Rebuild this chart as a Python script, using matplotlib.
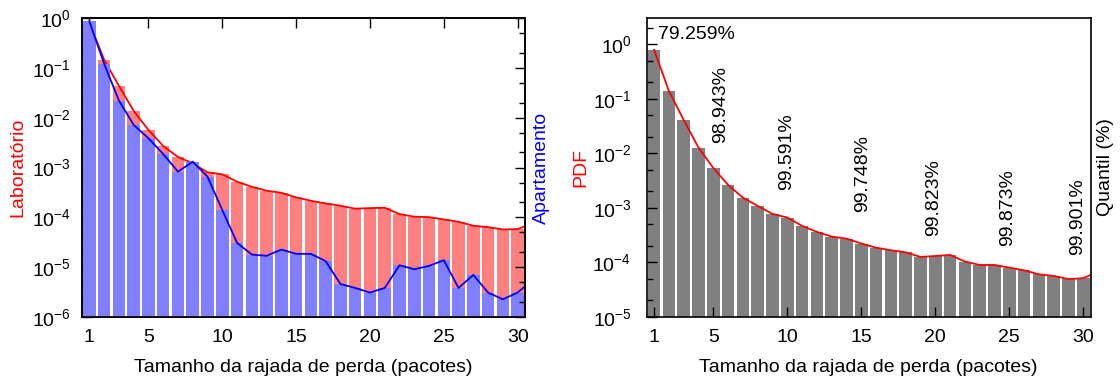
import numpy as np
import matplotlib
matplotlib.use("Agg")
import matplotlib.pyplot as plt
from matplotlib.ticker import LogLocator, NullFormatter

plt.rcParams['font.family'] = ['Liberation Sans', 'DejaVu Sans']
plt.rcParams['font.size'] = 14
plt.rcParams['mathtext.fontset'] = 'custom'
plt.rcParams['mathtext.rm'] = 'Liberation Sans'

# === DATA ===
sizes = np.arange(1, 32)  # 31st point only shows as the line leaving the frame

lab_pdf = [0.80, 0.145, 0.0435, 0.01368, 0.00567, 0.0027, 0.00163, 1.21e-3,
           8.0e-4, 7.3e-4, 5.19e-4, 4.11e-4, 3.42e-4, 3.11e-4, 2.51e-4,
           2.15e-4, 1.90e-4, 1.71e-4, 1.49e-4, 1.53e-4, 1.56e-4, 1.16e-4,
           1.03e-4, 1.01e-4, 9.07e-5, 8.14e-5, 6.77e-5, 6.36e-5, 5.71e-5,
           5.80e-5, 7.5e-5]

apt_pdf = [0.855, 0.1205, 0.0221, 0.00715, 0.00386, 0.00186, 8.24e-4, 1.31e-3,
           6.53e-4, 1.40e-4, 3.08e-5, 1.79e-5, 1.69e-5, 2.26e-5, 1.85e-5,
           1.85e-5, 1.32e-5, 4.6e-6, 3.83e-6, 3.09e-6, 3.83e-6, 1.09e-5,
           9.1e-6, 1.06e-5, 1.38e-5, 3.83e-6, 7.0e-6, 3.09e-6, 2.27e-6,
           3.09e-6, 5.47e-6]

pdf = [0.79259, 0.139, 0.0409, 0.01268, 0.00537, 0.00262, 0.00153, 0.00108,
       7.7e-4, 6.6e-4, 4.64e-4, 3.6e-4, 2.95e-4, 2.71e-4, 2.2e-4,
       1.85e-4, 1.66e-4, 1.52e-4, 1.25e-4, 1.30e-4, 1.36e-4, 1.03e-4,
       8.9e-5, 8.9e-5, 7.97e-5, 7.1e-5, 6.0e-5, 5.6e-5, 4.9e-5,
       5.1e-5, 6.7e-5]

quantil_first = '79.259%'
quantil_labels = ['98.943%', '99.591%', '99.748%', '99.823%', '99.873%', '99.901%']
quantil_x = [5.47, 9.96, 15.1, 19.9, 24.9, 29.6]
quantil_y = [0.01525, 0.00212, 8.47e-4, 3.08e-4, 2.02e-4, 1.36e-4]

xticks = [1, 5, 10, 15, 20, 25, 30]
xlabel = 'Tamanho da rajada de perda (pacotes)'

W, H = 1120, 380
fig = plt.figure(figsize=(W / 100, H / 100), dpi=100)

bar_w = 0.85
floor = 1e-9


def style_log_y(ax, pad):
    ax.set_yscale('log')
    ax.yaxis.set_major_locator(LogLocator(base=10, numticks=20))
    ax.yaxis.set_minor_locator(LogLocator(base=10, subs=(2, 5), numticks=20))
    ax.yaxis.set_minor_formatter(NullFormatter())
    ax.tick_params(axis='y', which='major', direction='in', length=7, width=1, pad=pad)
    ax.tick_params(axis='y', which='minor', direction='in', length=4, width=1)


# === LEFT: Laboratorio vs Apartamento ===
ax1 = fig.add_axes([82 / W, 1 - 317 / H, 443 / W, 299 / H])
ax1.bar(sizes, np.array(lab_pdf) - floor, bottom=floor, width=bar_w,
        color='#ff8080', linewidth=0, zorder=1)
ax1.plot(sizes, lab_pdf, color='#ff0000', lw=1.3, zorder=2)
ax1.bar(sizes, np.array(apt_pdf) - floor, bottom=floor, width=bar_w,
        color='#8080ff', linewidth=0, zorder=3)
ax1.plot(sizes, apt_pdf, color='#0000ff', lw=1.3, zorder=4)

style_log_y(ax1, pad=8)
ax1.set_ylim(1e-6, 1)
ax1.set_xlim(0.5, 30.5)
ax1.set_xticks(xticks)
ax1.tick_params(axis='x', direction='in', length=7, width=1, top=True, pad=9)
ax1.set_xlabel(xlabel, labelpad=9)
ax1.set_ylabel('Laboratório', color='#ff0000')
ax1.yaxis.set_label_coords(-0.126, 0.5)

ax1r = ax1.twinx()
style_log_y(ax1r, pad=2)
ax1r.set_ylim(1e-6, 1)
ax1r.tick_params(axis='y', which='both', labelright=False)
ax1r.set_ylabel('Apartamento', color='#0000ff')
ax1r.yaxis.set_label_coords(1.018, 0.5)

for a in (ax1, ax1r):
    for s in a.spines.values():
        s.set_linewidth(1.2)

# === RIGHT: PDF + quantiles ===
ax2 = fig.add_axes([646.7 / W, 1 - 316.7 / H, 444 / W, 298.4 / H])
ax2.bar(sizes, np.array(pdf) - floor, bottom=floor, width=bar_w,
        color='#808080', linewidth=0, zorder=1)
ax2.plot(sizes, pdf, color='#ff0000', lw=1.3, zorder=2)

style_log_y(ax2, pad=11)
ax2.set_ylim(1e-5, 3)
ax2.set_xlim(0.5, 30.5)
ax2.set_xticks(xticks)
ax2.tick_params(axis='x', direction='in', length=7, width=1, pad=9)
ax2.set_xlabel(xlabel, labelpad=9)
ax2.set_ylabel('PDF', color='#ff0000')
ax2.yaxis.set_label_coords(-0.128, 0.5)
for s in ax2.spines.values():
    s.set_linewidth(1.2)

ax2.text(1.25, 1.5, quantil_first, ha='left', va='center', zorder=5)
for lbl, qx, qy in zip(quantil_labels, quantil_x, quantil_y):
    ax2.text(qx, qy, lbl, rotation=90, ha='center', va='bottom', zorder=5)

fig.text(1105 / W, 1 - 167 / H, 'Quantil (%)', rotation=90, ha='center', va='center')

fig.savefig('out.png', dpi=100)
